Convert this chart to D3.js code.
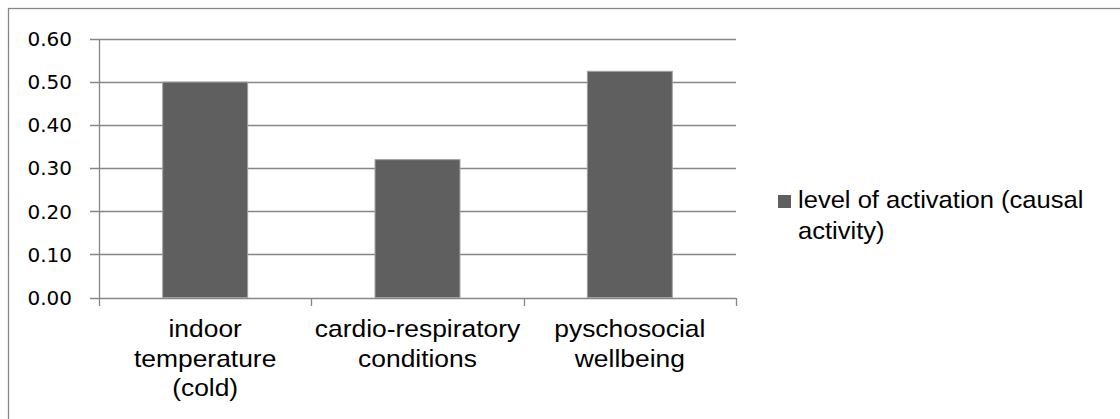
<!DOCTYPE html>
<html>
<head>
<meta charset="utf-8">
<script src="https://cdn.jsdelivr.net/npm/d3@7"></script>
<style>
  html, body { margin: 0; padding: 0; background: #fff; }
  svg { display: block; }
</style>
</head>
<body>
<svg id="chart" width="1120" height="419"></svg>
<script>
// ---- data ----
const categories = ["indoor temperature (cold)", "cardio-respiratory conditions", "pyschosocial wellbeing"];
const categoryLines = [["indoor", "temperature", "(cold)"], ["cardio-respiratory", "conditions"], ["pyschosocial", "wellbeing"]];
const seriesName = "level of activation (causal activity)";
const seriesLines = ["level of activation (causal", "activity)"];
const values = [0.50, 0.32, 0.525];
const yTicks = [0, 0.1, 0.2, 0.3, 0.4, 0.5, 0.6];

// ---- layout ----
const svg = d3.select("#chart");
const plot = { left: 99, right: 736, top: 39, bottom: 297.5 };
const gridColor = "#868686";
const barColor = "#5f5f5f";
const catScaleX = 1.10;
const legScaleX = 1.065;
const textFont = "'Liberation Sans', Arial, sans-serif";
const textSize = 24;

svg.append("rect")
  .attr("x", 8.5).attr("y", 8.5)
  .attr("width", 1200).attr("height", 600)
  .attr("fill", "#fff").attr("stroke", gridColor).attr("stroke-width", 1.3);

const y = d3.scaleLinear().domain([0, 0.6]).range([plot.bottom, plot.top]);
const x = d3.scaleBand().domain(categories).range([plot.left, plot.right]).padding(0);

// gridlines + y ticks
svg.append("g").selectAll("line").data(yTicks).join("line")
  .attr("x1", plot.left - 9).attr("x2", plot.right)
  .attr("y1", d => Math.round(y(d)) + 0.5).attr("y2", d => Math.round(y(d)) + 0.5)
  .attr("stroke", gridColor).attr("stroke-width", 1.3);

// y axis line
svg.append("line")
  .attr("x1", plot.left + 0.5).attr("x2", plot.left + 0.5)
  .attr("y1", Math.round(y(0.6))).attr("y2", Math.round(y(0)) + 1)
  .attr("stroke", gridColor).attr("stroke-width", 1.3);

// y tick labels
svg.append("g").selectAll("text").data(yTicks).join("text")
  .attr("x", 72).attr("y", d => y(d))
  .attr("dy", "0.36em")
  .attr("text-anchor", "end")
  .attr("font-family", "'DejaVu Sans', sans-serif")
  .attr("font-size", 20)
  .attr("fill", "#000")
  .text(d => d3.format(".2f")(d));

// x category ticks
const tickXs = categories.map(c => x(c)).concat([x(categories[categories.length - 1]) + x.bandwidth()]);
svg.append("g").selectAll("line").data(tickXs).join("line")
  .attr("x1", d => Math.round(d) + 0.5).attr("x2", d => Math.round(d) + 0.5)
  .attr("y1", Math.round(y(0))).attr("y2", Math.round(y(0)) + 8)
  .attr("stroke", gridColor).attr("stroke-width", 1.3);

// bars
const bw = x.bandwidth() * 0.4;
svg.append("g").selectAll("rect").data(values).join("rect")
  .attr("x", (d, i) => x(categories[i]) + (x.bandwidth() - bw) / 2)
  .attr("y", d => y(d))
  .attr("width", bw)
  .attr("height", d => y(0) - y(d))
  .attr("fill", barColor)
  .attr("stroke", "#a0a0a0").attr("stroke-width", 1);

// category labels
categories.forEach((c, i) => {
  const cx = x(c) + x.bandwidth() / 2;
  const t = svg.append("text")
    .attr("transform", `translate(${cx},0) scale(${catScaleX},1)`)
    .attr("font-family", textFont)
    .attr("font-size", textSize).attr("fill", "#000").attr("text-anchor", "middle");
  categoryLines[i].forEach((line, j) => {
    t.append("tspan").attr("x", 0).attr("y", 337.5 + j * 29.5).text(line);
  });
});

// legend
svg.append("rect")
  .attr("x", 778).attr("y", 195).attr("width", 13).attr("height", 13)
  .attr("fill", barColor);
const lg = svg.append("text")
  .attr("transform", `translate(798,0) scale(${legScaleX},1)`)
  .attr("font-family", textFont)
  .attr("font-size", textSize).attr("fill", "#000");
seriesLines.forEach((line, j) => {
  lg.append("tspan").attr("x", 0).attr("y", 208 + j * 31).text(line);
});
</script>
</body>
</html>
